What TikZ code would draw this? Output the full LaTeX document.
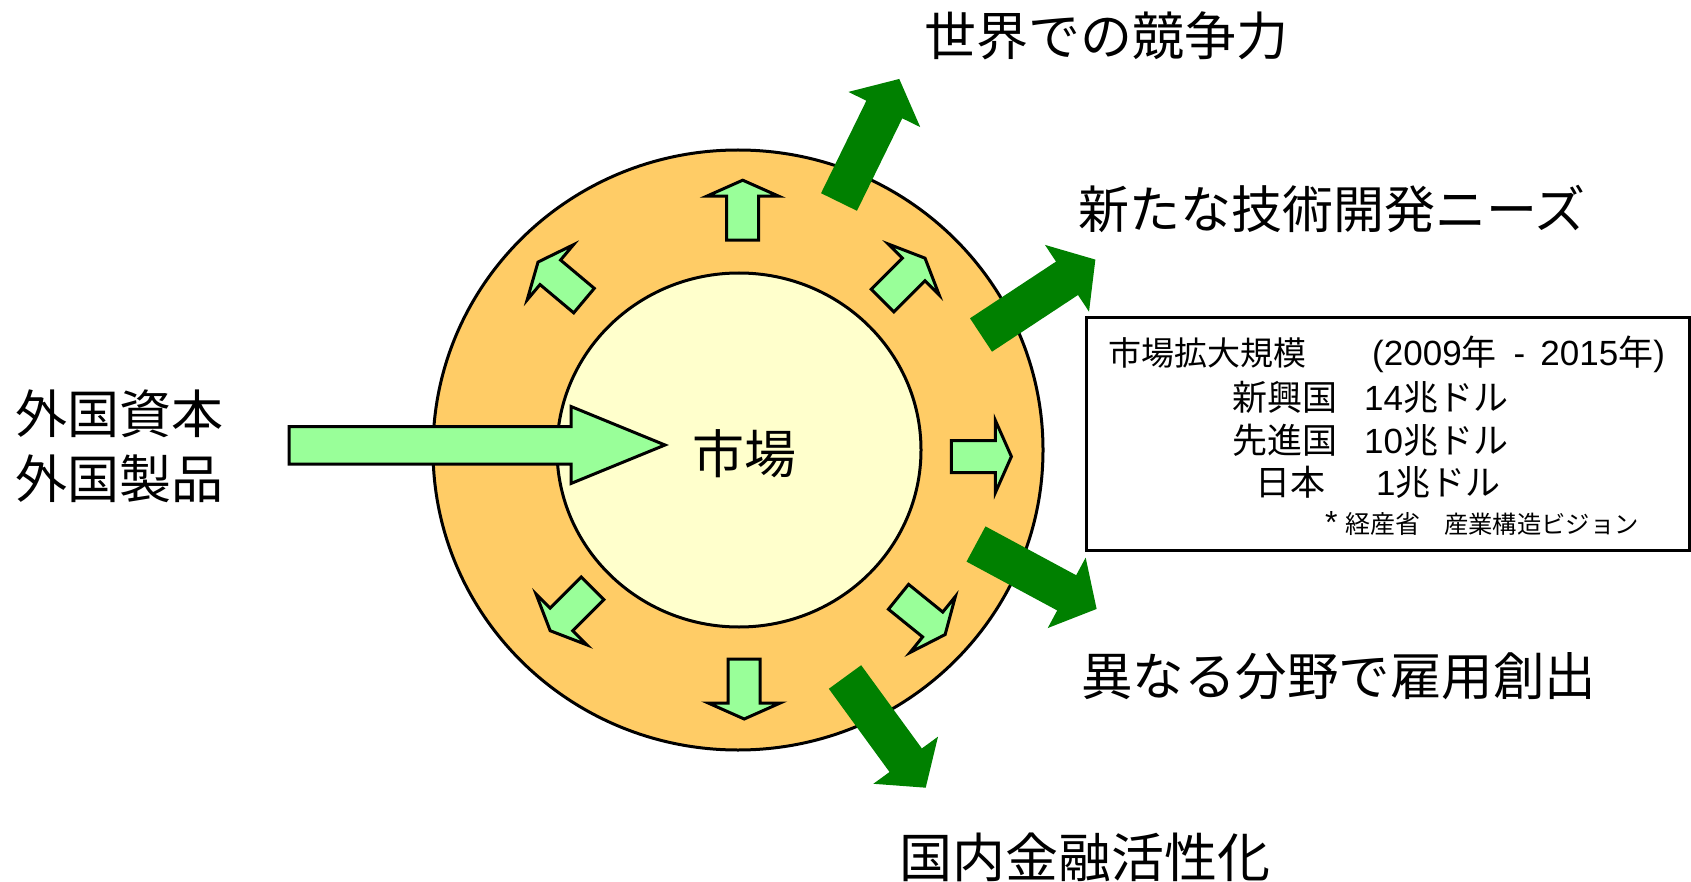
\documentclass[tikz,border=0pt]{standalone}
\usepackage{fontspec}
\setmainfont{Noto Sans CJK JP}
\newfontfamily\lat{Liberation Sans}
\definecolor{ring}{RGB}{255,204,102}
\definecolor{core}{RGB}{255,255,204}
\definecolor{lgreen}{RGB}{153,255,153}
\definecolor{dgreen}{RGB}{0,128,0}
\tikzset{
  sarrow/.style={fill=lgreen, draw=black, line width=3pt, line join=miter},
  darrow/.style={fill=dgreen, draw=none},
  bigtxt/.style={anchor=base west, inner sep=0pt, font=\fontsize{52}{62}\selectfont},
  boxtxt/.style={anchor=base west, inner sep=0pt, font=\fontsize{35}{42}\selectfont},
  headtxt/.style={anchor=base west, inner sep=0pt, font=\fontsize{33}{40}\selectfont},
  notetxt/.style={anchor=base west, inner sep=0pt, font=\fontsize{25}{30}\selectfont},
}
\newcommand\SArrow[3]{\draw[sarrow,shift={(#1,#2)},rotate=#3] (0,-16) -- (44,-16) -- (44,-36) -- (60,0) -- (44,36) -- (44,16) -- (0,16) -- cycle;}
\newcommand\DArrow[3]{\fill[darrow,shift={(#1,#2)},rotate=#3] (0,-20) -- (103,-20) -- (103,-40) -- (137,0) -- (103,40) -- (103,20) -- (0,20) -- cycle;}
\begin{document}
\begin{tikzpicture}[x=1pt,y=-1pt]
\useasboundingbox (0,0) rectangle (1691,882);
% market rings
\draw[fill=ring, line width=3pt] (738,450) ellipse [x radius=305pt, y radius=300pt];
\draw[fill=core, line width=3pt] (739,450) ellipse [x radius=182pt, y radius=177pt];
\node[anchor=base, inner sep=0pt, font=\fontsize{52}{62}\selectfont] (market) at (744,473) {市場};
% small outward arrows
\SArrow{742.7}{240.2}{90}
\SArrow{882.6}{300.6}{45}
\SArrow{951.4}{456.5}{0}
\SArrow{898.5}{596.8}{-39}
\SArrow{744.2}{659}{-90}
\SArrow{592.6}{588.3}{225}
\SArrow{584}{300.6}{140}
% incoming arrow
\draw[sarrow] (289,426.5) -- (571,426.5) -- (571,406.5) -- (665,445) -- (571,483.5) -- (571,464) -- (289,464) -- cycle;
% dark green arrows
\DArrow{839}{202}{63.9}
\DArrow{981}{335}{33.4}
\DArrow{976}{544}{-28.3}
\DArrow{845}{677}{-53.9}
% labels
\node[bigtxt] (in1) at (15,433) {外国資本};
\node[bigtxt] (in2) at (15,498) {外国製品};
\node[bigtxt] (out1) at (924,56) {世界での競争力};
\node[bigtxt, font=\fontsize{51}{61}\selectfont] (out2) at (1078,229) {新たな技術開発ニーズ};
\node[bigtxt, font=\fontsize{51.5}{61}\selectfont] (out3) at (1081,695) {異なる分野で雇用創出};
\node[bigtxt, font=\fontsize{53}{63}\selectfont] (out4) at (899,877) {国内金融活性化};
% info box
\node[draw, line width=3pt, anchor=north west, minimum width=603pt, minimum height=233pt, inner sep=0pt] (box) at (1085,316) {};
\node[headtxt] (b1a) at (1108,366) {市場拡大規模};
\node[boxtxt] (b1b) at (1372,366) {{\lat (2009}年\hspace{17pt}{\lat -}\hspace{15pt}{\lat 2015}年{\lat )}};
\node[boxtxt] (b2a) at (1232,410) {新興国};
\node[boxtxt] (b2b) at (1364,410) {{\lat 14}兆ドル};
\node[boxtxt] (b3a) at (1232,453) {先進国};
\node[boxtxt] (b3b) at (1364,453) {{\lat 10}兆ドル};
\node[boxtxt] (b4a) at (1255,495) {日本};
\node[boxtxt] (b4b) at (1376,495) {{\lat 1}兆ドル};
\node[notetxt, font=\fontsize{32}{38}\selectfont\lat] (b5a) at (1325,533.5) {*};
\node[notetxt] (b5b) at (1345,533.5) {経産省};
\node[notetxt, font=\fontsize{24.3}{29}\selectfont] (b5c) at (1444,533.5) {産業構造ビジョン};
\end{tikzpicture}
\end{document}
